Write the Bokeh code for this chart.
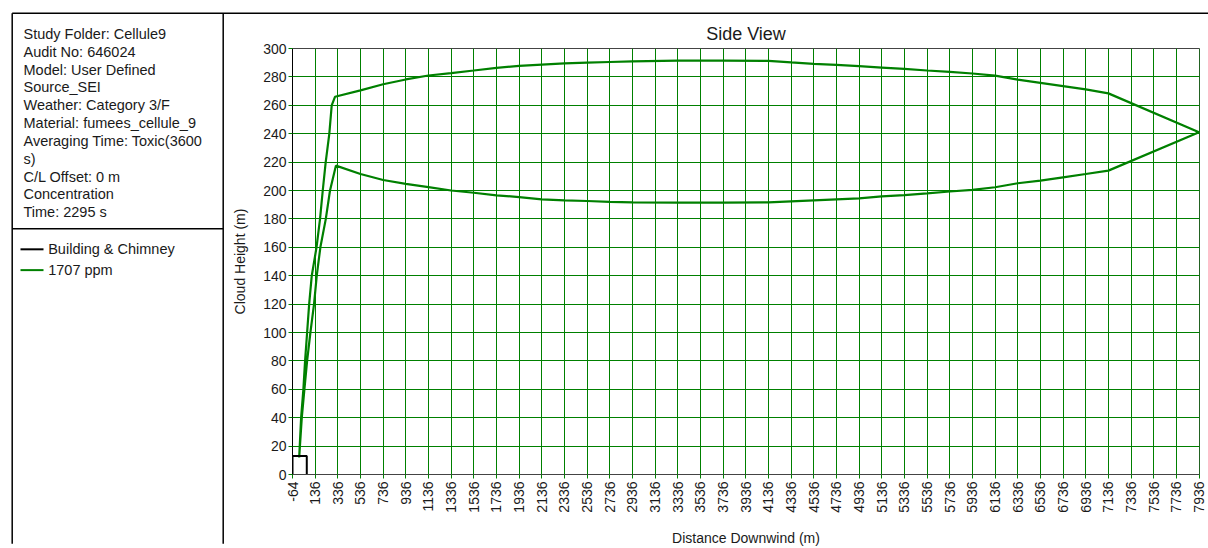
import math
from bokeh.plotting import figure
from bokeh.models import Range1d, FixedTicker
from bokeh.embed import file_html
from bokeh.resources import INLINE
from bokeh.core.properties import value

FONT = "Liberation Sans"
GREEN = "#008000"
TEXT = "#1a1a1a"

# ---------------- data ----------------
info_lines = [
    "Study Folder: Cellule9",
    "Audit No: 646024",
    "Model: User Defined",
    "Source_SEI",
    "Weather: Category 3/F",
    "Material: fumees_cellule_9",
    "Averaging Time: Toxic(3600",
    "s)",
    "C/L Offset: 0 m",
    "Concentration",
    "Time: 2295 s",
]
legend_labels = ["Building & Chimney", "1707 ppm"]
legend_colors = ["#000000", GREEN]

x_ticks = list(range(-64, 7937, 200))
y_ticks = list(range(0, 301, 20))

# building & chimney outline (m)
bldg_x = [-64, -64, 62, 62]
bldg_y = [0, 13, 13, 0]

# 1707 ppm cloud contour: upper edge (left to right)
upper_x = [-5, 12, 32, 47, 65, 83, 106, 148, 179, 203, 229, 261, 282, 311,
           536, 736, 936, 1136, 1336, 1536, 1736, 1936, 2136, 2336, 2536, 2736, 2936,
           3336, 3736, 4136, 4336, 4536, 4736, 4936, 5136, 5336, 5536, 5736, 5936,
           6136, 6336, 6536, 6736, 6936, 7136, 7936]
upper_y = [12, 40, 60, 80, 100, 120, 140, 160, 180, 200, 220, 240, 260, 266,
           270.5, 274.8, 278.2, 281, 282.7, 284.5, 286.4, 287.7, 288.6, 289.5, 290, 290.5, 291,
           291.4, 291.4, 291.3, 290.2, 289.2, 288.4, 287.6, 286.6, 285.6, 284.5, 283.5, 282.4,
           280.9, 278.1, 275.8, 273.5, 271.2, 268.4, 241]
# lower edge (left to right)
lower_x = [-5, 18, 41, 65, 94, 126, 150, 182, 230, 267, 319,
           536, 736, 936, 1136, 1336, 1536, 1736, 1936, 2136, 2336, 2536, 2736, 2936,
           3336, 3736, 4136, 4336, 4536, 4736, 4936, 5136, 5336, 5536, 5736, 5936,
           6136, 6336, 6536, 6736, 6936, 7136, 7936]
lower_y = [12, 40, 60, 80, 100, 120, 140, 160, 180, 200, 217.5,
           211.6, 207.4, 204.7, 202.4, 200, 198.4, 196.6, 195.4, 193.8, 193.1, 192.6, 192, 191.6,
           191.5, 191.5, 191.6, 192.4, 193.1, 193.8, 194.5, 195.8, 196.8, 198, 199.3, 200.5,
           202.3, 205.1, 207, 209.3, 211.6, 214, 241]

contour_x = upper_x + lower_x[::-1]
contour_y = upper_y + lower_y[::-1]

# ---------------- layout constants (pixels) ----------------
W, H = 1208, 548
FL, FR, FT, FB = 292, 1199, 48, 478   # frame left/right/top/bottom

p = figure(width=W, height=H, x_range=Range1d(-64, 7940), y_range=Range1d(0, 300),
           output_backend="svg", toolbar_location=None,
           min_border_left=FL, min_border_right=W - FR,
           min_border_top=FT, min_border_bottom=H - FB)
# pixel ranges for the side panel (screen coordinates)
p.extra_x_ranges = {"px": Range1d(FL, FR)}
p.extra_y_ranges = {"px": Range1d(FB, FT)}

p.title.text = "Side View"
p.title.align = "center"
p.title.text_font = FONT
p.title.text_font_size = "18px"
p.title.text_font_style = "normal"
p.title.text_color = TEXT
p.outline_line_color = "#444444"
p.background_fill_color = "white"
p.border_fill_color = "white"

p.xaxis.ticker = FixedTicker(ticks=x_ticks)
p.yaxis.ticker = FixedTicker(ticks=y_ticks)
p.xaxis.major_label_overrides = {-64: "-64"}
p.xaxis.major_label_orientation = math.pi / 2
p.xaxis.axis_label = "Distance Downwind (m)"
p.yaxis.axis_label = "Cloud Height (m)"
for ax in (p.xaxis, p.yaxis):
    ax.major_label_text_font = FONT
    ax.major_label_text_font_size = "14px"
    ax.major_label_text_color = TEXT
    ax.axis_label_text_font = FONT
    ax.axis_label_text_font_size = "14px"
    ax.axis_label_text_font_style = "normal"
    ax.axis_label_text_color = TEXT
    ax.major_tick_line_color = GREEN
    ax.major_tick_out = 4
    ax.major_tick_in = 0
    ax.minor_tick_line_color = None
    ax.major_label_standoff = 3
p.xaxis.axis_line_color = "#444444"
p.yaxis.axis_line_color = "black"
p.xaxis.axis_label_standoff = 14
p.yaxis.axis_label_standoff = 12
p.yaxis.major_label_standoff = 2

p.grid.grid_line_color = GREEN
p.grid.grid_line_width = 1
p.grid.grid_line_alpha = 1.0

p.line(contour_x, contour_y, line_color=GREEN, line_width=2.2)
p.line(bldg_x, bldg_y, line_color="black", line_width=2)

# ---------------- side panel (info + legend) ----------------
PX = dict(x_range_name="px", y_range_name="px", level="overlay")
p.segment(x0=[11.7, 11.7, 222.7, 11.7], y0=[12.3, 12.3, 12.3, 230],
          x1=[W, 11.7, 222.7, 222.7], y1=[12.3, H, H, 230],
          line_color="black", line_width=1.5, **PX)
p.text(x=[23] * len(info_lines), y=[33.3 + 18 * i for i in range(len(info_lines))],
       text=info_lines, text_font=value(FONT), text_font_size="14.5px",
       text_baseline="middle", text_color=TEXT, **PX)
ly = [250.7 + 21 * i for i in range(len(legend_labels))]
p.segment(x0=[20] * len(ly), y0=ly, x1=[43] * len(ly), y1=ly,
          line_color=legend_colors, line_width=2, **PX)
p.text(x=[47.7] * len(ly), y=ly, text=legend_labels, text_font=value(FONT),
       text_font_size="14.5px", text_baseline="middle", text_color=TEXT, **PX)

open("out.html", "w").write(file_html(p, INLINE))
